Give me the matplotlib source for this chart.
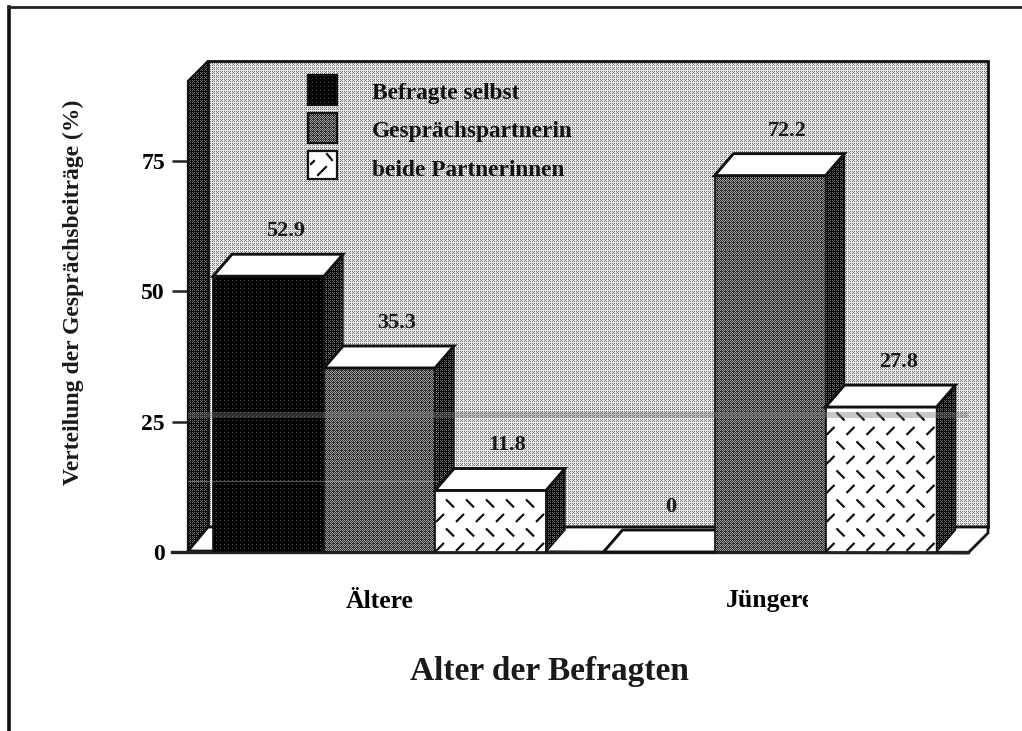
import matplotlib
matplotlib.use('Agg')
import matplotlib.pyplot as plt
import numpy as np
from matplotlib.patches import Polygon, Rectangle

groups = ['Ältere', 'Jüngere']
series = ['Befragte selbst', 'Gesprächspartnerin', 'beide Partnerinnen']
aeltere = [52.9, 35.3, 11.8]
juengere = [0, 72.2, 27.8]
yticks = [0, 25, 50, 75]

W, H = 1022, 731
plt.rcParams['font.family'] = ['Liberation Serif', 'DejaVu Serif']
plt.rcParams['font.weight'] = 'bold'

fig = plt.figure(figsize=(W / 100, H / 100), dpi=100, facecolor='white')

# pixel axes for the frame and the 3d box, data axes on top of it
bg = fig.add_axes([0, 0, 1, 1])
bg.set_xlim(0, W)
bg.set_ylim(H, 0)
bg.axis('off')

ax_l, ax_r, ax_t, ax_b = 172, 968, 60, 552
ax = fig.add_axes([ax_l / W, 1 - ax_b / H, (ax_r - ax_l) / W, (ax_b - ax_t) / H])
ax.patch.set_alpha(0)
px_x = 390.5
px_y = 5.213
xlim = ((ax_l - 379.5) / px_x, (ax_r - 379.5) / px_x)
ylim = (0, (ax_b - ax_t) / px_y)
ax.set_xlim(xlim)
ax.set_ylim(ylim)
for s in ['top', 'right', 'left']:
    ax.spines[s].set_visible(False)
ax.spines['bottom'].set_linewidth(2.4)
ax.spines['bottom'].set_color('#222222')

bayer = np.array([[0, 8, 2, 10], [12, 4, 14, 6], [3, 11, 1, 9], [15, 7, 13, 5]]) / 16 + 1 / 32
grid = np.tile(bayer, (H // 4 + 1, W // 4 + 1))[:H, :W]


def shade(axis, patch, level, zorder, lo, hi):
    # one screen pixel per image pixel, so the screen stays fine
    bb = axis.get_position()
    h = int(round(bb.height * H))
    w = int(round(bb.width * W))
    tone = np.where(grid[:h, :w] < level, hi, lo)
    xl, yl = axis.get_xlim(), axis.get_ylim()
    im = axis.imshow(tone, cmap='gray', vmin=0, vmax=1, aspect='auto', interpolation='nearest',
                     zorder=zorder, origin='upper', extent=(xl[0], xl[1], min(yl), max(yl)))
    axis.set_xlim(xl)
    axis.set_ylim(yl)
    im.set_clip_path(patch)


def pane(pts, level, zorder=1, lw=1.6, lo=0.0, hi=1.0):
    p = Polygon(pts, closed=True, facecolor='white' if level >= 1 else 'none',
                edgecolor='#111111', linewidth=lw, zorder=zorder + 0.5)
    bg.add_patch(p)
    if level < 1:
        shade(bg, p, level, zorder, lo, hi)
    return p


bg.plot([9, 9], [7, H], color='#111111', lw=2.6)
bg.plot([9, W], [7, 7], color='#222222', lw=2.0)
pane([(208, 61), (988, 61), (988, 527), (208, 527)], 0.66, 1, 2.0, 0.46, 0.92)
pane([(188, 81), (208, 61), (208, 527), (188, 551)], 0.30, 2, 1.6, 0.02, 0.45)
pane([(188, 551), (208, 527), (988, 527), (988, 533), (968, 553)], 1, 3, 2.0)

width = 111 / px_x
dep_x = 19 / px_x
dep_y = 22 / px_y
levels = [0.06, 0.45, 1]
tones = [(0.0, 0.3), (0.18, 0.62), (1, 1)]
side_levels = [0.3, 0.3, 0.3]
z = 10


def dashes(axis, x0, x1, y0, y1, clip, zorder):
    # short crossing strokes of the white fill
    step_x = 20 / px_x
    step_y = 14.5 / px_y
    a = 4 / px_x
    b = 4 / px_y
    row = 0
    yy = y0 + 0.35 * step_y
    while yy < y1:
        xx = x0 + (0.25 if row % 2 == 0 else 0.75) * step_x
        while xx < x1:
            sign = 1 if row % 2 == 0 else -1
            ln, = axis.plot([xx - a, xx + a], [yy - sign * b, yy + sign * b], color='#111111',
                            lw=1.6, zorder=zorder, solid_capstyle='butt')
            ln.set_clip_path(clip)
            xx += step_x
        yy += step_y
        row += 1


for g, vals in enumerate([aeltere, juengere]):
    for i, v in enumerate(vals):
        x = g + (i - 1) * width
        bar = ax.bar(x, v, width, facecolor='white' if levels[i] >= 1 else 'none',
                     edgecolor='#111111', linewidth=1.2, zorder=z + 0.5)[0]
        left, right = x - width / 2, x + width / 2
        if levels[i] < 1:
            shade(ax, bar, levels[i], z, tones[i][0], tones[i][1])
        elif v > 0:
            dashes(ax, left, right, 0, v, bar, z + 0.6)
        top = Polygon([(left, v), (left + dep_x, v + dep_y), (right + dep_x, v + dep_y), (right, v)],
                      closed=True, facecolor='white', edgecolor='#111111', linewidth=2.1,
                      zorder=z + 0.7, clip_on=False)
        ax.add_patch(top)
        if v > 0:
            side = Polygon([(right, 0), (right, v), (right + dep_x, v + dep_y), (right + dep_x, dep_y)],
                           closed=True, facecolor='none', edgecolor='#111111', linewidth=1.0,
                           zorder=z + 0.7, clip_on=False)
            ax.add_patch(side)
            shade(ax, side, side_levels[i], z + 0.6, 0.02, 0.42)
        z += 1
        ax.text(x + dep_x * (0.9 if v > 0 else 0.6), v + dep_y + 2.5, '{:g}'.format(v), ha='center',
                va='bottom', fontsize=16, color='#1a1a1a', fontweight='bold', zorder=60)

ax.set_yticks(yticks)
ax.tick_params(axis='y', direction='in', length=11, width=1.8, pad=5, labelsize=17, color='#222222')
ax.set_xticks([0, 1])
ax.set_xticklabels(groups, fontsize=18.5)
ax.tick_params(axis='x', length=0, pad=27)
ax.set_xlabel('Alter der Befragten', fontsize=24, fontweight='bold', color='#1a1a1a')
ax.xaxis.set_label_coords((549 - ax_l) / (ax_r - ax_l), -(656 - ax_b) / (ax_b - ax_t), transform=ax.transAxes)
ax.set_ylabel('Verteilung der Gesprächsbeiträge (%)', fontsize=17, fontweight='bold', color='#1a1a1a')
ax.yaxis.set_label_coords(-(ax_l - 84) / (ax_r - ax_l), (ax_b - 292) / (ax_b - ax_t), transform=ax.transAxes)

# second label is cut off at its right end in the original
fig.add_artist(Rectangle((808 / W, 1 - 626 / H), 24 / W, 44 / H, transform=fig.transFigure,
                         facecolor='white', edgecolor='none', zorder=10))

# legend
boxes = [(75, 105), (113, 143), (151, 179)]
text_y = [94, 131, 171]
for i, name in enumerate(series):
    y0, y1 = boxes[i]
    pane([(308, y0), (337, y0), (337, y1), (308, y1)], levels[i], 70, 1.6, tones[i][0], tones[i][1])
    bg.text(372, text_y[i], name, fontsize=16.8, va='center', ha='left', color='#111111', zorder=72)
bg.plot([318, 326], [175, 167], color='#111111', lw=1.6, zorder=72)
bg.plot([327, 332], [154, 160], color='#111111', lw=1.6, zorder=72)
bg.plot([311, 314], [164, 161], color='#111111', lw=1.6, zorder=72)
bg.set_xlim(0, W)
bg.set_ylim(H, 0)

# the copy left a grey stripe and a pale line across the page
ax.axhspan((ax_b - 418) / px_y, (ax_b - 412) / px_y, xmin=(188 - ax_l) / (ax_r - ax_l), xmax=1,
           facecolor='#777777', alpha=0.4, edgecolor='none', zorder=58)
ax.axhline((ax_b - 481) / px_y, xmin=(188 - ax_l) / (ax_r - ax_l), xmax=(437 - ax_l) / (ax_r - ax_l),
           color='#bbbbbb', alpha=0.45, lw=0.8, zorder=58)

fig.savefig('out.png', dpi=100)
